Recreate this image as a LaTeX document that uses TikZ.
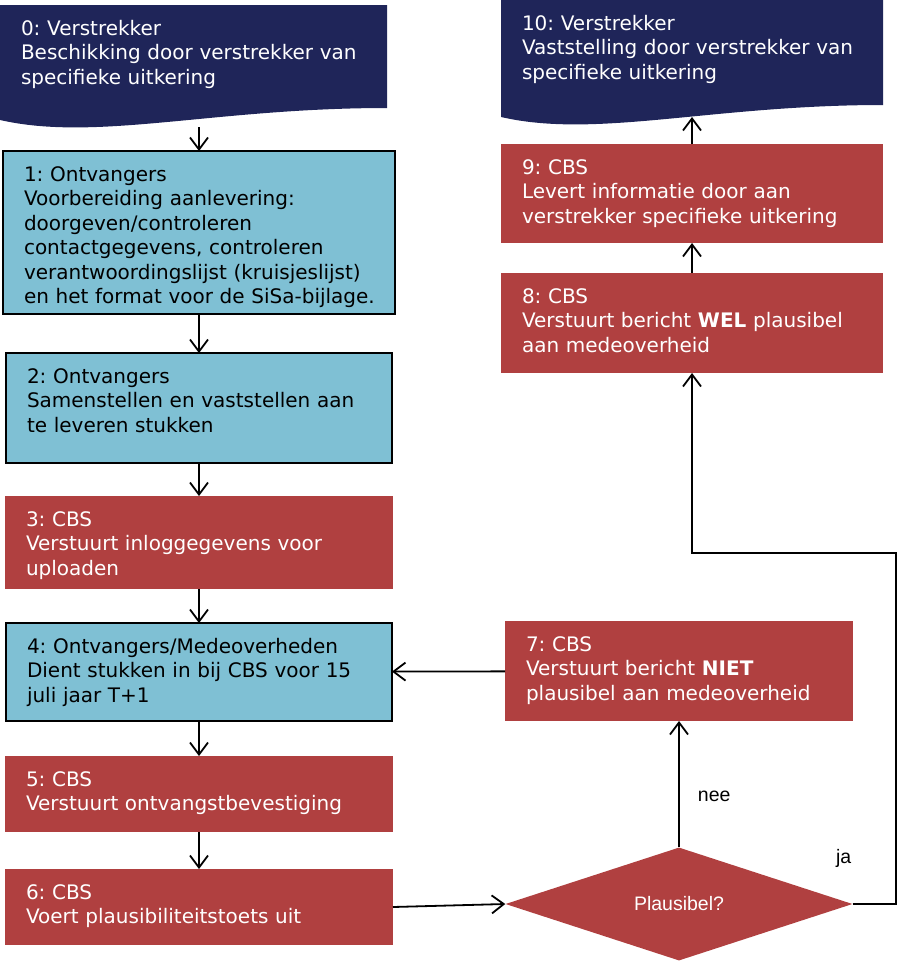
\documentclass[tikz,border=0pt]{standalone}
\usepackage{fontspec}
\setmainfont{DejaVu Sans}
\newfontfamily\arialfont{Liberation Sans}
\usetikzlibrary{arrows.meta, calc, positioning, shapes.geometric, backgrounds}
\frenchspacing

\definecolor{cbsrood}{RGB}{176,64,64}
\definecolor{ontvblauw}{RGB}{127,192,212}
\definecolor{verstrnavy}{RGB}{31,37,89}

\begin{document}
\begin{tikzpicture}[
        x=1pt, y=-1pt,
        >={Straight Barb[length=12pt,width=18pt]},
        stap/.style={anchor=north west, inner xsep=0pt, inner ysep=0pt, outer sep=0pt,
            align=left, text height=30pt,
            font=\fontsize{20}{24.5}\selectfont,
            execute at begin node={\leftskip=21pt}},
        rood/.style={stap, fill=cbsrood, text=white},
        blauw/.style={stap, fill=ontvblauw, draw=black, line width=2pt},
        donker/.style={stap, text=white},
        pijl/.style={->, line width=1.8pt},
        keuzevak/.style={diamond, fill=cbsrood, text=white, inner sep=0pt,
            minimum width=347pt, minimum height=113pt,
            font=\arialfont\fontsize{19.5}{22}\selectfont},
        lbl/.style={inner sep=0pt, font=\arialfont\fontsize{19.5}{22}\selectfont}
    ]
\useasboundingbox (0,0) rectangle (898,961);

% linkerkolom
\node[donker, text width=387pt, text depth=85pt] (v0) at (0,5)
    {0: Verstrekker\\Beschikking door verstrekker van\\specifieke uitkering};
\node[blauw, text width=392pt, text depth=133pt] (v1) at (3,151)
    {1: Ontvangers\\Voorbereiding aanlevering:\\doorgeven/controleren\\contactgegevens, controleren\\verantwoordingslijst (kruisjeslijst)\\en het format voor de SiSa-bijlage.};
\node[blauw, text width=386pt, text depth=80pt] (v2) at (6,353)
    {2: Ontvangers\\Samenstellen en vaststellen aan\\te leveren stukken};
\node[rood, text width=388pt, text depth=63pt] (v3) at (5,496)
    {3: CBS\\Verstuurt inloggegevens voor\\uploaden};
\node[blauw, text width=386pt, text depth=68pt] (v4) at (6,623)
    {4: Ontvangers/Medeoverheden\\Dient stukken in bij CBS voor 15\\juli jaar T+1};
\node[rood, text width=388pt, text depth=46pt] (v5) at (5,756)
    {5: CBS\\Verstuurt ontvangstbevestiging};
\node[rood, text width=388pt, text depth=46pt] (v6) at (5,869)
    {6: CBS\\Voert plausibiliteitstoets uit};

% rechterkolom
\node[keuzevak] (keuze) at (679,904) {Plausibel?};
\node[rood, text width=348pt, text depth=70pt] (v7) at (505,621)
    {7: CBS\\Verstuurt bericht \textbf{NIET}\\plausibel aan medeoverheid};
\node[rood, text width=382pt, text depth=70pt] (v8) at (501,273)
    {8: CBS\\Verstuurt bericht \textbf{WEL} plausibel\\aan medeoverheid};
\node[rood, text width=382pt, text depth=69pt] (v9) at (501,144)
    {9: CBS\\Levert informatie door aan\\verstrekker specifieke uitkering};
\node[donker, text width=382pt, text depth=87pt] (v10) at (501,0)
    {10: Verstrekker\\Vaststelling door verstrekker van\\specifieke uitkering};

% documentvorm achter de verstrekker-vakken
\begin{scope}[on background layer]
\foreach \v in {v0, v10} {
    \fill[verstrnavy] (\v.north west) -- (\v.north east) -- ($(\v.south east)+(0,-12)$)
        .. controls ($(\v.south west)!0.55!(\v.south east)+(0,-12)$)
        and ($(\v.south west)!0.25!(\v.south east)+(0,22)$) .. (\v.south west) -- cycle;
}
\end{scope}

% pijlen
\coordinate (w0) at ($(v0.south -| v1.north)+(0,7)$);
\draw[pijl] (w0) -- (v1.north);
\draw[pijl] (v1) -- (v2);
\draw[pijl] (v2) -- (v3);
\draw[pijl] (v3) -- (v4);
\draw[pijl] (v4) -- (v5);
\draw[pijl] (v5) -- (v6);
\draw[pijl] (v6.east) -- (keuze.west);
\draw[pijl] (keuze.north) -- (v7.south) node[lbl, pos=0.4, right=18pt] (nee) {nee};
\draw[pijl] (v7) -- (v4);
\coordinate (omweg) at (896,553);
\draw[pijl] (keuze.east) -| (omweg) -| (v8.south);
\node[lbl] (ja) at ($(keuze.east)+(-9,-46)$) {ja};
\draw[pijl] (v8) -- (v9);
\draw[pijl] (v9.north) -- (v10.south);
\end{tikzpicture}
\end{document}
